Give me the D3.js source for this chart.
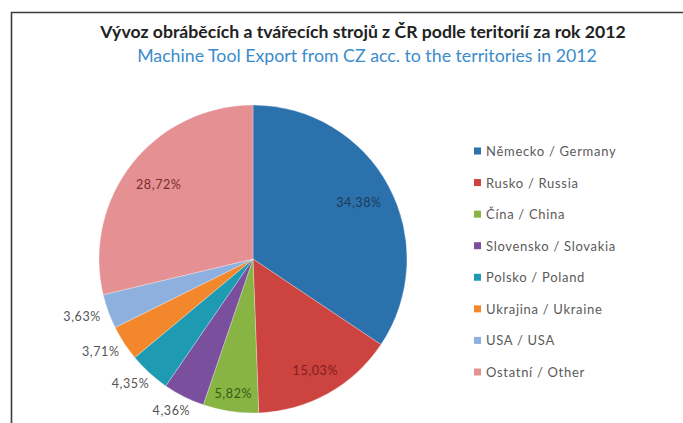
<!DOCTYPE html>
<html><head><meta charset="utf-8">
<script src="https://cdn.jsdelivr.net/npm/d3@7"></script>
<style>html,body{margin:0;padding:0;background:#fff;}svg{display:block;}</style>
</head><body>
<svg id="c" width="683" height="423"></svg>
<script>
const titleCz = "Vývoz obráběcích a tvářecích strojů z ČR podle teritorií za rok 2012";
const titleEn = "Machine Tool Export from CZ acc. to the territories in 2012";
const categories = ["Německo / Germany","Rusko / Russia","Čína / China","Slovensko / Slovakia","Polsko / Poland","Ukrajina / Ukraine","USA / USA","Ostatní / Other"];
const shares = [34.38, 15.03, 5.82, 4.36, 4.35, 3.71, 3.63, 28.72];
const labels = ["34,38%","15,03%","5,82%","4,36%","4,35%","3,71%","3,63%","28,72%"];
const colors = ["#2b72ad","#cc4340","#88b444","#7a4f9e","#1e9bb3","#f3872b","#8eb0de","#e59194"];
const labelColors = ["#1c3a58","#7e1f1f","#3a5a16","#555","#555","#555","#555","#7a2d2d"];

const svg = d3.select("#c");
const font = "Lato, 'Open Sans', sans-serif";

// frame
svg.append("path").attr("d","M11.5,423 V12.5 H683").attr("fill","none").attr("stroke","#3c3c3c").attr("stroke-width",1.6);

// titles
function fit(t, w){ const l=t.node().getComputedTextLength(); const fs=parseFloat(t.attr("font-size")); t.attr("font-size", fs*w/l); }
const t1 = svg.append("text").attr("x",363).attr("y",38).attr("text-anchor","middle")
  .attr("font-family",font).attr("font-weight","bold").attr("font-size",14).attr("fill","#222").text(titleCz);
fit(t1, 526);
const t2 = svg.append("text").attr("x",367).attr("y",62).attr("text-anchor","middle")
  .attr("font-family",font).attr("font-size",14).attr("fill","#3a8ccc").text(titleEn);
fit(t2, 460);

// pie
const cx = 253, cy = 259, r = 154;
const pie = d3.pie().sort(null).value(d=>d)(shares);
const arc = d3.arc().innerRadius(0).outerRadius(r);
const g = svg.append("g").attr("transform",`translate(${cx},${cy})`);
g.selectAll("path").data(pie).join("path").attr("d",arc)
  .attr("fill",(d,i)=>colors[i]).attr("stroke","#fff").attr("stroke-width",0.4).attr("stroke-opacity",0.7);

// labels
const lab = g.selectAll("text.l").data(pie).join("text").attr("class","l")
  .attr("font-family",font).attr("font-size",12.5).attr("letter-spacing",0.6)
  .attr("text-anchor","middle").attr("dominant-baseline","central")
  .attr("fill",(d,i)=>labelColors[i]).text((d,i)=>labels[i]);
lab.each(function(d){
  const a = (d.startAngle+d.endAngle)/2;
  const pct = (d.endAngle-d.startAngle)/(2*Math.PI);
  const t = d3.select(this);
  let x,y;
  if (pct > 0.05){
    const k = pct < 0.1 ? 0.88 : (pct < 0.2 ? 0.83 : 0.78);
    x = Math.sin(a)*r*k; y = -Math.cos(a)*r*k;
  } else {
    const w = this.getComputedTextLength(), h = 12;
    const rr = r + 9;
    x = Math.sin(a)*rr + Math.sin(a)*w/2;
    y = -Math.cos(a)*rr - Math.cos(a)*h/2;
  }
  t.attr("x",x).attr("y",y);
});

// legend
const ly = d3.scalePoint().domain(categories).range([151,372]);
const lg = svg.append("g");
const items = lg.selectAll("g").data(categories).join("g").attr("transform",d=>`translate(0,${ly(d)})`);
items.append("rect").attr("x",474).attr("y",-3.5).attr("width",7).attr("height",7).attr("fill",(d,i)=>colors[i]);
const lt = items.append("text").attr("x",486).attr("y",0).attr("dominant-baseline","central")
  .attr("font-family",font).attr("font-size",13).attr("letter-spacing",0.7).attr("fill","#5a5a5a").text(d=>d);
</script>
</body></html>
